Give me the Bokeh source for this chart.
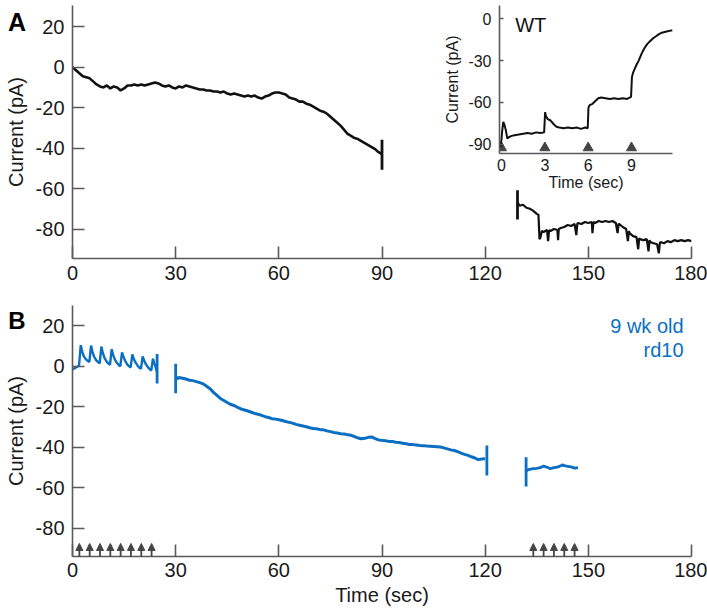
from bokeh.plotting import figure
from bokeh.models import Range1d, Label, FixedTicker, Arrow, NormalHead, ColumnDataSource, Div
from bokeh.layouts import column
from bokeh.embed import file_html
from bokeh.resources import INLINE

# ---------------- data ----------------
main_x_ticks = [0, 30, 60, 90, 120, 150, 180]
main_y_ticks = [-80, -60, -40, -20, 0, 20]
inset_x_ticks = [0, 3, 6, 9]
inset_y_ticks = [-90, -60, -30, 0]

# Panel A (WT), first recording segment
a1_t = list(range(0, 91))
a1_i = [0, -1.5, -3, -4.5, -5, -5.5, -7, -8.5, -9.5, -10,
        -9, -10.5, -9.5, -10, -11.5, -10.5, -9, -9, -8.5, -9,
        -8.5, -9, -8.5, -8, -7.5, -8, -9, -9.5, -9, -10,
        -10.5, -9.5, -10, -9, -9.5, -10, -10.5, -11, -11, -11.5,
        -11.5, -12, -12, -12.5, -12, -13, -13.5, -13, -13.5, -14,
        -14.5, -14, -14.5, -14, -15, -15.5, -14.5, -14, -13, -12.5,
        -12.5, -13, -13.5, -15, -15.5, -16, -17, -17, -18, -18.5,
        -19.5, -20.5, -21.5, -22, -23, -24.5, -26, -27.5, -29, -31,
        -33, -34, -35, -35.5, -36.5, -37.5, -38.5, -39.5, -40.5, -42, -43]

# Panel A, second recording segment
a2_t = [129.5, 130, 131, 132, 133, 134, 135, 135.5, 135.8, 136,
        136.5, 137, 138, 138.3, 138.6, 139, 140, 141, 141.2, 141.4,
        142, 143, 144, 145, 146, 146.5, 146.8, 147, 148, 149,
        150, 151, 151.2, 151.5, 152, 153, 154, 155, 156, 157,
        158, 158.5, 158.8, 159, 160, 161, 161.5, 161.8, 162, 163,
        164, 164.5, 164.8, 165, 166, 167, 167.5, 167.8, 168, 169,
        170, 170.5, 170.8, 171, 172, 173, 174, 175, 176, 177,
        178, 179, 180]
a2_i = [-67, -68.5, -68, -69.5, -70, -71, -72.5, -73, -85, -84.5,
        -81, -81.5, -80.5, -86, -80.5, -81, -80, -80.5, -85.5, -80,
        -79.5, -79, -78, -78.5, -77.5, -83, -77.5, -77, -77.5, -76.5,
        -77, -76.5, -82, -76.5, -77, -76, -76.5, -76, -76.5, -76,
        -77, -82, -77.5, -77.5, -79, -80, -86, -81, -82, -83.5,
        -84, -90, -84.5, -85, -85.5, -85, -91, -85.5, -86.5, -87,
        -87.5, -92, -87, -86.5, -87, -86, -86.5, -85.5, -86, -85.5,
        -86, -85.5, -86]

a_bar_t = [90, 129.4]
a_bar_lo = [-50.7, -75.3]
a_bar_hi = [-35.9, -60.8]

# Inset (WT, seconds)
inset_t = [-0.15, -0.05, 0.05, 0.12, 0.2, 0.3, 0.4, 0.5, 0.7, 0.9,
           1.2, 1.5, 1.8, 2.1, 2.4, 2.7, 2.95, 3.02, 3.08, 3.2,
           3.4, 3.6, 3.8, 4.0, 4.3, 4.6, 4.9, 5.2, 5.5, 5.8,
           5.97, 6.02, 6.1, 6.3, 6.5, 6.7, 6.9, 7.2, 7.5, 7.8,
           8.1, 8.4, 8.7, 8.97, 9.03, 9.1, 9.2, 9.35, 9.5, 9.7,
           9.9, 10.1, 10.3, 10.5, 10.7, 10.9, 11.1, 11.3, 11.5, 11.7, 11.85]
inset_i = [-88, -92, -80, -74, -76, -80, -86, -85, -84, -83.5,
           -83, -82.5, -82, -82.5, -81.5, -82, -81.5, -67, -70, -72,
           -73, -75.5, -77.5, -78, -78.5, -78, -78.5, -78, -79, -78,
           -78.5, -64, -62, -61, -59, -57, -56.5, -57, -57.5, -57,
           -57.5, -57, -57.5, -56, -42, -39, -36.5, -33, -30, -25,
           -21, -18, -16, -14, -12.5, -11, -10, -9.5, -9, -8.5, -8.5]
inset_stim = [0, 3, 6, 9]

# Panel B (9 wk old rd10)
b1_t = [0, 0.5, 1, 1.5, 1.9, 2.4, 2.8, 3.3, 3.9, 4.4,
        4.9, 5.4, 5.8, 6.3, 6.9, 7.4, 7.9, 8.4, 8.8, 9.3,
        9.9, 10.4, 10.9, 11.4, 11.8, 12.3, 12.9, 13.4, 13.9, 14.4,
        14.8, 15.3, 15.9, 16.4, 16.9, 17.4, 17.8, 18.3, 18.9, 19.4,
        19.9, 20.4, 20.8, 21.3, 21.9, 22.4, 22.9, 23.4, 23.8, 24.2, 24.5]
b1_i = [-1.5, -1, -0.5, 0, 0.5, 10.5, 7.5, 5, 3.5, 2.8,
        2.2, 10.3, 7.2, 4.8, 3, 2.2, 1.5, 9.8, 6.8, 4.2,
        2.5, 1.5, 0.8, 8.5, 5.8, 3.5, 1.8, 0.8, 0, 7,
        4.8, 2.8, 1, 0.2, -0.5, 6, 3.8, 2, 0.5, -0.5,
        -1.2, 5, 3, 1.2, -0.3, -1.2, -2, 3.8, 1.5, -0.5, -2.5]

b2_t = [30, 30.5] + list(range(31, 121))
b2_i = [-5, -6, -5.5, -5.8, -6.2, -6.8, -7, -7.5, -8, -8.6,
        -9.8, -11, -12.8, -14.3, -15.8, -16.8, -17.8, -18.8, -19.3, -20.2,
        -21, -21.5, -22, -22.6, -23.2, -23.6, -24.2, -24.8, -25.2, -25.8,
        -26, -26.3, -26.7, -27.2, -27.6, -28, -28.6, -29, -29.4, -29.8,
        -30.3, -30.6, -30.8, -31.2, -31.3, -31.8, -32.2, -32.6, -32.9, -33.2,
        -33.4, -33.7, -34, -34.6, -35.3, -35.7, -35.5, -35, -34.8, -35.6,
        -36.3, -36.5, -36.7, -37, -37.1, -37.4, -37.6, -37.9, -38.2, -38.5,
        -38.6, -38.8, -39, -39.1, -39.3, -39.4, -39.5, -39.6, -39.8, -40.2,
        -40.7, -41.2, -41.5, -42.1, -42.8, -43.4, -43.9, -44.6, -45.2, -46,
        -45.7, -45.6]

b3_t = [132, 132.5, 133, 134, 135, 136, 137, 138, 139, 140,
        141, 142, 142.5, 143, 144, 145, 146, 147]
b3_i = [-51.5, -51, -50.8, -50.5, -50.3, -50, -49.2, -49.8, -50.5, -50,
        -49.7, -49, -48.6, -49, -49.3, -49.6, -50.2, -50]

b_bar_t = [24.6, 30.0, 120.5, 131.9]
b_bar_lo = [-8.4, -13.2, -53.8, -59.3]
b_bar_hi = [6.1, 1.3, -39.0, -44.8]
b_stim = [2, 5, 8, 11, 14, 17, 20, 23, 134, 137, 140, 143, 146]

# ---------------- styling ----------------
FONT = "Liberation Sans"
AXC = "#5a5a5a"
TXT = "#1a1a1a"
BLACK = "#111111"
BLUE = "#0a6fc2"
STIM = "#444444"
LEFT = 72    # shared left border (the column aligns its children's frames)
RIGHT = 16   # shared right border


def style_axes(p, tick_len, lab_size, ax_size, y_standoff, x_standoff, ylab_standoff, xlab_standoff,
               xticks, yticks):
    p.xaxis.ticker = FixedTicker(ticks=xticks)
    p.yaxis.ticker = FixedTicker(ticks=yticks)
    p.xaxis.major_label_overrides = {t: str(t) for t in xticks}
    p.yaxis.major_label_overrides = {t: str(t) for t in yticks}
    for ax in (p.xaxis[0], p.yaxis[0]):
        ax.axis_line_color = AXC
        ax.axis_line_width = 1.6
        ax.major_tick_line_color = AXC
        ax.major_tick_line_width = 1.6
        ax.minor_tick_line_color = None
        ax.major_tick_out = 0
        ax.major_label_text_font = FONT
        ax.major_label_text_font_size = lab_size
        ax.major_label_text_color = TXT
        ax.axis_label_text_font = FONT
        ax.axis_label_text_font_size = ax_size
        ax.axis_label_text_font_style = "normal"
        ax.axis_label_text_color = TXT
    p.xaxis[0].major_tick_in = tick_len[0]
    p.yaxis[0].major_tick_in = tick_len[1]
    p.yaxis[0].major_label_standoff = y_standoff
    p.xaxis[0].major_label_standoff = x_standoff
    p.yaxis[0].axis_label_standoff = ylab_standoff
    p.xaxis[0].axis_label_standoff = xlab_standoff
    p.xgrid.grid_line_color = None
    p.ygrid.grid_line_color = None
    p.outline_line_color = None


# ---------------- Panel A ----------------
pA = figure(width=707, height=290, x_range=Range1d(0, 180), y_range=Range1d(-94.57, 30.52),
            output_backend="svg", toolbar_location=None,
            min_border_left=LEFT, min_border_right=RIGHT, min_border_top=5, min_border_bottom=32)
pA.yaxis.axis_label = "Current (pA)"
style_axes(pA, (12, 12), "20px", "20px", 8, 7, 6, 2, main_x_ticks, main_y_ticks)

pA.line(a1_t, a1_i, line_color=BLACK, line_width=2.6)
pA.line(a2_t, a2_i, line_color=BLACK, line_width=2.2)
pA.segment(x0=a_bar_t, y0=a_bar_lo, x1=a_bar_t, y1=a_bar_hi, line_color=BLACK, line_width=2.8)

# ---------------- Inset ----------------
inset = figure(width=LEFT + 173 + RIGHT, height=201, x_range=Range1d(-0.14, 11.84),
               y_range=Range1d(-96.66, 9.52),
               output_backend="svg", toolbar_location=None,
               min_border_left=LEFT, min_border_right=RIGHT, min_border_top=5, min_border_bottom=48)
inset.background_fill_color = None
inset.border_fill_color = None
inset.xaxis.axis_label = "Time (sec)"
inset.yaxis.axis_label = "Current (pA)"
style_axes(inset, (0, 4), "16px", "16px", 8, 5, 4, 0, inset_x_ticks, inset_y_ticks)
inset.scatter(inset_stim, [-92.6] * len(inset_stim), marker="triangle", size=10,
              fill_color=STIM, line_color=STIM)
inset.line(inset_t, inset_i, line_color=BLACK, line_width=2.0)
inset.add_layout(Label(x=0.95, y=-4.8, text="WT", text_font=FONT, text_font_size="20px",
                       text_color="#111111", text_align="left", text_baseline="middle"))
inset.styles = {"position": "absolute", "left": f"{499 - LEFT}px", "top": "0px", "z-index": "5"}

# ---------------- Panel B ----------------
pB = figure(width=707, height=321, x_range=Range1d(0, 180), y_range=Range1d(-93.85, 30.1),
            output_backend="svg", toolbar_location=None,
            min_border_left=LEFT, min_border_right=RIGHT, min_border_top=15, min_border_bottom=55)
pB.yaxis.axis_label = "Current (pA)"
pB.xaxis.axis_label = "Time (sec)"
style_axes(pB, (12, 12), "20px", "20px", 8, 6, 6, 4, main_x_ticks, main_y_ticks)

pB.line(b1_t, b1_i, line_color=BLUE, line_width=2.4)
pB.line(b2_t, b2_i, line_color=BLUE, line_width=3.0)
pB.line(b3_t, b3_i, line_color=BLUE, line_width=2.8)
pB.segment(x0=b_bar_t, y0=b_bar_lo, x1=b_bar_t, y1=b_bar_hi, line_color=BLUE, line_width=2.8)

stim_src = ColumnDataSource(dict(x=b_stim, y0=[-93.85] * len(b_stim), y1=[-87.4] * len(b_stim)))
pB.add_layout(Arrow(end=NormalHead(size=7, fill_color=STIM, line_color=STIM, line_width=1),
                    x_start="x", y_start="y0", x_end="x", y_end="y1", source=stim_src,
                    line_color=STIM, line_width=1.8))

pB.add_layout(Label(x=177.7, y=20.2, text="9 wk old", text_font=FONT, text_font_size="20px",
                    text_color=BLUE, text_align="right", text_baseline="middle"))
pB.add_layout(Label(x=177.7, y=7.9, text="rd10", text_font=FONT, text_font_size="20px",
                    text_color=BLUE, text_align="right", text_baseline="middle"))

# ---------------- panel letters ----------------
div_style = {"font-family": FONT, "font-weight": "bold", "line-height": "1", "color": "#000000"}
divA = Div(text="A", width=30, height=30,
           styles=dict(div_style, **{"position": "absolute", "left": "3px", "top": "4.7px",
                                     "font-size": "25px"}))
divB = Div(text="B", width=30, height=30,
           styles=dict(div_style, **{"position": "absolute", "left": "3.3px", "top": "303.9px",
                                     "font-size": "24px"}))

root = column(pA, pB, inset, divA, divB)
root.styles = {"position": "relative"}

open("out.html", "w").write(file_html(root, INLINE))
